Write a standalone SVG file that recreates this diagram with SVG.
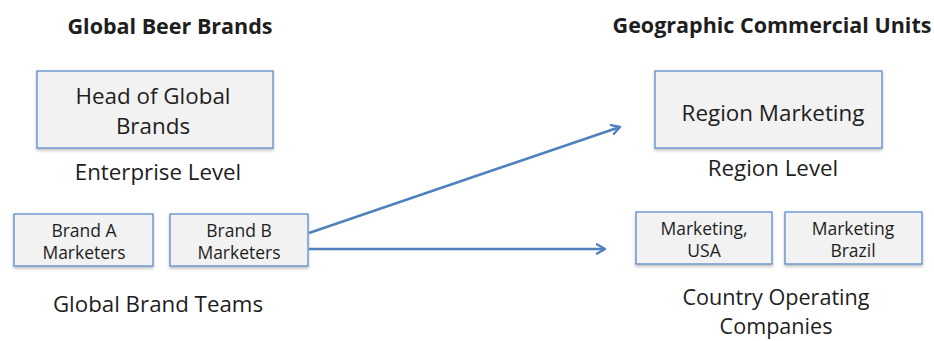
<svg xmlns="http://www.w3.org/2000/svg" width="934" height="341" viewBox="0 0 934 341">
<defs>
<style>
.t{font-family:"Open Sans","Liberation Sans",sans-serif;fill:#1e1e1e;text-anchor:middle}
.h{font-weight:bold;font-size:21.5px}
.big{font-size:22.4px}
.lab{font-size:22.3px}
.lab2{font-size:21.6px}
.sm{font-size:17.5px}
.box{fill:#f2f2f2;stroke:#5b8ccb;stroke-width:1.3;filter:url(#sh)}
.ar{stroke:#4f81bd;stroke-width:2.6;fill:none;marker-end:url(#ah)}
</style>
<filter id="sh" x="-10%" y="-10%" width="120%" height="130%">
<feDropShadow dx="0" dy="2" stdDeviation="1.5" flood-color="#000" flood-opacity="0.25"/>
</filter>
<marker id="ah" viewBox="0 0 10 10" refX="8" refY="5" markerWidth="4.5" markerHeight="4.5" orient="auto" markerUnits="strokeWidth">
<path d="M1,1 L8,5 L1,9" fill="none" stroke="#4f81bd" stroke-width="2" stroke-linecap="round" stroke-linejoin="round"/>
</marker>
</defs>
<rect width="934" height="341" fill="#fff"/>
<text class="t h" x="170" y="34">Global Beer Brands</text>
<text class="t h" x="772" y="33">Geographic Commercial Units</text>
<g id="head">
<rect class="box" x="37" y="71" width="236" height="77"/>
<text class="t big" x="153" y="104">Head of Global</text>
<text class="t big" x="153" y="134">Brands</text>
</g>
<text class="t lab" x="158" y="180">Enterprise Level</text>
<g id="brandA">
<rect class="box" x="14" y="214" width="139" height="52"/>
<text class="t sm" x="84" y="237">Brand A</text>
<text class="t sm" x="84" y="259">Marketers</text>
</g>
<g id="brandB">
<rect class="box" x="170" y="214" width="138" height="52"/>
<text class="t sm" x="239" y="237">Brand B</text>
<text class="t sm" x="239" y="259">Marketers</text>
</g>
<text class="t lab" x="158" y="312">Global Brand Teams</text>
<g id="region">
<rect class="box" x="655" y="71" width="227" height="77"/>
<text class="t big" x="773" y="121">Region Marketing</text>
</g>
<text class="t lab" x="773" y="176">Region Level</text>
<g id="usa">
<rect class="box" x="636" y="212" width="136" height="52"/>
<text class="t sm" x="704" y="235">Marketing,</text>
<text class="t sm" x="704" y="257">USA</text>
</g>
<g id="brazil">
<rect class="box" x="785" y="212" width="137" height="52"/>
<text class="t sm" x="853" y="235">Marketing</text>
<text class="t sm" x="853" y="257">Brazil</text>
</g>
<text class="t lab2" x="776" y="305">Country Operating</text>
<text class="t lab2" x="776" y="334">Companies</text>
<g id="connectors">
<line class="ar" x1="309" y1="233" x2="620" y2="127"/>
<line class="ar" x1="309" y1="249" x2="605" y2="249"/>
</g>
</svg>
